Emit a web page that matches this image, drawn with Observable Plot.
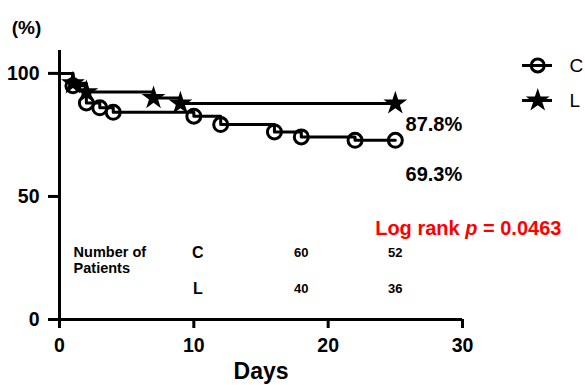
<!DOCTYPE html>
<html><head><meta charset="utf-8">
<script src="https://cdn.jsdelivr.net/npm/d3@7"></script>
<script src="https://cdn.jsdelivr.net/npm/@observablehq/plot@0.6"></script>
<style>body{margin:0;background:#fff} svg{display:block}</style>
</head><body><div id="chart"></div>
<script>
// ---- data ----
const groups = ["C", "L"];
const daysC = [0, 1, 2, 3, 4, 10, 12, 16, 18, 22, 25];
const survC = [100, 95, 88, 86, 84.2, 82.6, 79.2, 76.2, 74.2, 72.8, 72.8];
const daysL = [0, 1, 2, 7, 9, 25];
const survL = [100, 96, 92.4, 90, 87.8, 87.8];
const finalLabels = ["87.8%", "69.3%"];
const pLabel = "Log rank p = 0.0463";
const riskDays = [18, 25];
const riskC = [60, 52];
const riskL = [40, 36];
const xTicks = [0, 10, 20, 30];
const yTicks = [0, 50, 100];

const C = daysC.map((d, i) => ({day: d, s: survC[i]}));
const L = daysL.map((d, i) => ({day: d, s: survL[i]}));
const cMarks = C.filter(d => d.day > 0);
const lMarks = L.filter(d => d.day > 0);
const riskRows = [
  ...riskDays.map((d, i) => ({day: d, g: "C", n: riskC[i]})),
  ...riskDays.map((d, i) => ({day: d, g: "L", n: riskL[i]}))
];
const rowY = {C: 27.2, L: 12.6};
const legendY = {C: 103.2, L: 89.0};

const font = "'Liberation Sans', Arial, sans-serif";

const chart = Plot.plot({
  width: 585, height: 385,
  marginLeft: 59, marginRight: 123, marginTop: 50, marginBottom: 66,
  style: {fontFamily: font, fontWeight: "bold", color: "black", background: "white"},
  x: {domain: [0, 30]},
  y: {domain: [0, 109.3]},
  marks: [
    Plot.ruleX([0], {y1: -3.7, y2: 109.3, strokeWidth: 3}),
    Plot.ruleY([0], {x1: -0.8, x2: 30, strokeWidth: 3}),
    Plot.axisY({ticks: yTicks, tickSize: 11, tickPadding: 9, fontSize: 19.5, strokeWidth: 3, label: null}),
    Plot.axisX({ticks: xTicks, tickSize: 9, tickPadding: 10, fontSize: 19.5, strokeWidth: 3, label: null}),
    Plot.text(["Days"], {frameAnchor: "bottom", dy: 59, fontSize: 23}),
    Plot.text(["(%)"], {frameAnchor: "top-left", dx: -33, dy: -23, textAnchor: "middle", lineAnchor: "middle", fontSize: 19}),
    // curves
    Plot.line(L, {x: "day", y: "s", curve: "step-after", strokeWidth: 3}),
    Plot.line(C, {x: "day", y: "s", curve: "step-after", strokeWidth: 3}),
    Plot.dot(cMarks, {x: "day", y: "s", r: 7, stroke: "black", strokeWidth: 3, fill: "none"}),
    Plot.dot(lMarks, {x: "day", y: "s", symbol: "star", r: 7.5, fill: "black", stroke: "none"}),
    // end labels
    Plot.text(finalLabels, {x: 25.76, y: (d, i) => [79.0, 58.7][i], textAnchor: "start", fontSize: 20}),
    Plot.text([pLabel], {x: 23.5, y: 37, textAnchor: "start", fontSize: 20, fill: "#ff0000"}),
    // number at risk
    Plot.text(["Number of", "Patients"], {x: 1.05, y: (d, i) => [27.2, 20.7][i], textAnchor: "start", fontSize: 14.5}),
    Plot.text(groups, {x: 10.3, y: d => rowY[d], fontSize: 16}),
    Plot.text(riskRows, {x: "day", y: d => rowY[d.g], text: "n", fontSize: 13}),
    // legend
    Plot.ruleY(groups, {x1: 34.47, x2: 36.7, y: d => legendY[d], strokeWidth: 3}),
    Plot.dot(["C"], {x: 35.6, y: legendY.C, r: 6.5, stroke: "black", strokeWidth: 3, fill: "none"}),
    Plot.dot(["L"], {x: 35.6, y: legendY.L, symbol: "star", r: 7.5, fill: "black"}),
    Plot.text(groups, {x: 37.97, y: d => legendY[d], textAnchor: "start", fontSize: 19, fontWeight: "normal"})
  ]
});

d3.select(chart).selectAll("text")
  .filter(function() { return this.textContent === pLabel; })
  .html('Log rank <tspan font-style="italic">p</tspan> = 0.0463');

document.getElementById("chart").appendChild(chart);
</script>
</body></html>
